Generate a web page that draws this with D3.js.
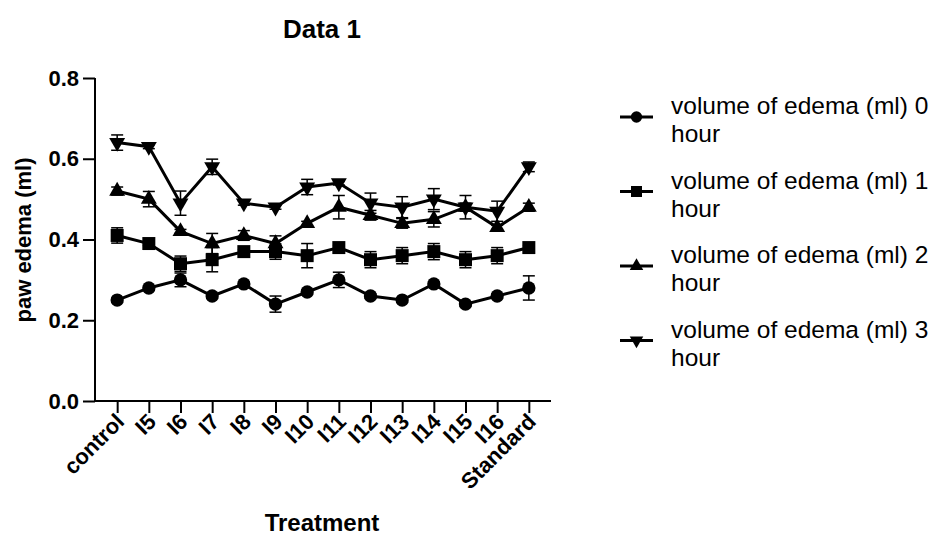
<!DOCTYPE html>
<html>
<head>
<meta charset="utf-8">
<script src="https://cdn.jsdelivr.net/npm/d3@7"></script>
<style>
  body { margin: 0; background: #fff; }
  text { font-family: "Liberation Sans", Arial, sans-serif; }
</style>
</head>
<body>
<div id="chart"></div>
<script>
// categories on the x axis
var categories = ["control", "I5", "I6", "I7", "I8", "I9", "I10", "I11",
                  "I12", "I13", "I14", "I15", "I16", "Standard"];

// series means (paw edema, ml)
var hour0 = [0.25, 0.28, 0.30, 0.26, 0.29, 0.24, 0.27, 0.30, 0.26, 0.25, 0.29, 0.24, 0.26, 0.28];
var hour1 = [0.41, 0.39, 0.34, 0.35, 0.37, 0.37, 0.36, 0.38, 0.35, 0.36, 0.37, 0.35, 0.36, 0.38];
var hour2 = [0.52, 0.50, 0.42, 0.39, 0.41, 0.39, 0.44, 0.48, 0.46, 0.44, 0.45, 0.48, 0.43, 0.48];
var hour3 = [0.64, 0.63, 0.49, 0.58, 0.49, 0.48, 0.53, 0.54, 0.49, 0.48, 0.50, 0.48, 0.47, 0.58];

// error bar half-widths
var hour0Err = [0.005, 0.005, 0.017, 0.005, 0.005, 0.02, 0.005, 0.019, 0.005, 0.005, 0.005, 0.005, 0.005, 0.03];
var hour1Err = [0.019, 0.005, 0.019, 0.03, 0.005, 0.019, 0.03, 0.005, 0.02, 0.02, 0.02, 0.02, 0.02, 0.005];
var hour2Err = [0.01, 0.019, 0.005, 0.025, 0.012, 0.019, 0.005, 0.029, 0.012, 0.012, 0.019, 0.01, 0.005, 0.01];
var hour3Err = [0.019, 0.005, 0.03, 0.019, 0.005, 0.005, 0.019, 0.005, 0.025, 0.026, 0.026, 0.029, 0.025, 0.012];

var seriesNames = ["volume of edema (ml) 0 hour", "volume of edema (ml) 1 hour",
                   "volume of edema (ml) 2 hour", "volume of edema (ml) 3 hour"];

var yTicks = [0.0, 0.2, 0.4, 0.6, 0.8];

var seriesData = [
  {name: seriesNames[0], values: hour0, err: hour0Err, shape: "circle"},
  {name: seriesNames[1], values: hour1, err: hour1Err, shape: "square"},
  {name: seriesNames[2], values: hour2, err: hour2Err, shape: "up"},
  {name: seriesNames[3], values: hour3, err: hour3Err, shape: "down"}
];

var width = 935, height = 550;

var svg = d3.select("#chart")
  .append("svg")
    .attr("width", width)
    .attr("height", height);

// scales
var x = d3.scalePoint()
  .domain(categories)
  .range([95, 551])
  .padding(0.7);

var y = d3.scaleLinear()
  .domain([0, 0.8])
  .range([401, 78]);

// symbol helper
function symbolPath(shape, big) {
  var s = big ? 1 : 0.72;
  if (shape == "circle") return d3.symbol().type(d3.symbolCircle).size(140 * s)();
  if (shape == "square") return d3.symbol().type(d3.symbolSquare).size(169 * s)();
  return d3.symbol().type(d3.symbolTriangle).size(110 * s)();
}
function symbolRot(shape) {
  return shape == "down" ? " rotate(180)" : "";
}

// Y axis
var yAxis = svg.append("g")
  .attr("transform", "translate(95,0)")
  .call(d3.axisLeft(y).tickValues(yTicks).tickFormat(d3.format(".1f")).tickSize(12).tickPadding(4));
yAxis.select(".domain").attr("d", "M0," + y(0.8) + "V" + y(0));

// X axis
var xAxis = svg.append("g")
  .attr("transform", "translate(0,401)")
  .call(d3.axisBottom(x).tickSize(12).tickSizeOuter(0));
xAxis.select(".domain").attr("d", "M95,0H551");

svg.selectAll(".domain, .tick line")
  .attr("stroke", "#000")
  .attr("stroke-width", 2);

yAxis.selectAll("text")
  .style("font-size", "22px")
  .style("font-weight", "bold")
  .attr("fill", "#000");

xAxis.selectAll("text")
  .style("font-size", "22px")
  .style("font-weight", "bold")
  .attr("fill", "#000")
  .style("text-anchor", "end")
  .attr("dy", null)
  .attr("y", null)
  .attr("transform", "translate(8,22) rotate(-45)");

// axis titles
svg.append("text")
  .attr("x", 322)
  .attr("y", 38)
  .attr("text-anchor", "middle")
  .style("font-size", "26px")
  .style("font-weight", "bold")
  .text("Data 1");

svg.append("text")
  .attr("x", 322)
  .attr("y", 531)
  .attr("text-anchor", "middle")
  .style("font-size", "24px")
  .style("font-weight", "bold")
  .text("Treatment");

svg.append("text")
  .attr("transform", "translate(31,240) rotate(-90)")
  .attr("text-anchor", "middle")
  .style("font-size", "22px")
  .style("font-weight", "bold")
  .text("paw edema (ml)");

// lines
var line = d3.line()
  .x(function(d, i) { return x(categories[i]); })
  .y(function(d) { return y(d); });

var groups = svg.selectAll(".series")
  .data(seriesData)
  .enter()
  .append("g")
    .attr("class", "series");

groups.append("path")
  .attr("d", function(d) { return line(d.values); })
  .attr("fill", "none")
  .attr("stroke", "#000")
  .attr("stroke-width", 3);

// error bars + markers
groups.each(function(s) {
  var g = d3.select(this);
  var bars = g.selectAll(".err")
    .data(s.values.map(function(v, i) { return {v: v, e: s.err[i], c: categories[i]}; }))
    .enter()
    .append("g");
  bars.append("line")
    .attr("x1", function(d) { return x(d.c); })
    .attr("x2", function(d) { return x(d.c); })
    .attr("y1", function(d) { return y(d.v - d.e); })
    .attr("y2", function(d) { return y(d.v + d.e); });
  bars.append("line")
    .attr("x1", function(d) { return x(d.c) - 6; })
    .attr("x2", function(d) { return x(d.c) + 6; })
    .attr("y1", function(d) { return y(d.v - d.e); })
    .attr("y2", function(d) { return y(d.v - d.e); });
  bars.append("line")
    .attr("x1", function(d) { return x(d.c) - 6; })
    .attr("x2", function(d) { return x(d.c) + 6; })
    .attr("y1", function(d) { return y(d.v + d.e); })
    .attr("y2", function(d) { return y(d.v + d.e); });
  bars.selectAll("line")
    .attr("stroke", "#000")
    .attr("stroke-width", 1.5);

  g.selectAll(".pt")
    .data(s.values)
    .enter()
    .append("path")
      .attr("d", symbolPath(s.shape, true))
      .attr("transform", function(d, i) {
        return "translate(" + x(categories[i]) + "," + y(d) + ")" + symbolRot(s.shape);
      })
      .attr("fill", "#000");
});

// legend
var legend = svg.selectAll(".legend")
  .data(seriesData)
  .enter()
  .append("g")
    .attr("transform", function(d, i) { return "translate(620," + (117 + i * 74.5) + ")"; });

legend.append("line")
  .attr("x1", 0)
  .attr("x2", 33)
  .attr("stroke", "#000")
  .attr("stroke-width", 3);

legend.append("path")
  .attr("d", function(d) { return symbolPath(d.shape, false); })
  .attr("transform", function(d) { return "translate(16.5,0)" + symbolRot(d.shape); })
  .attr("fill", "#000");

legend.append("text")
  .attr("x", 51)
  .attr("y", -3)
  .style("font-size", "24.5px")
  .text(function(d) { return d.name.replace(" hour", ""); });

legend.append("text")
  .attr("x", 51)
  .attr("y", 25)
  .style("font-size", "24.5px")
  .text("hour");
</script>
</body>
</html>
